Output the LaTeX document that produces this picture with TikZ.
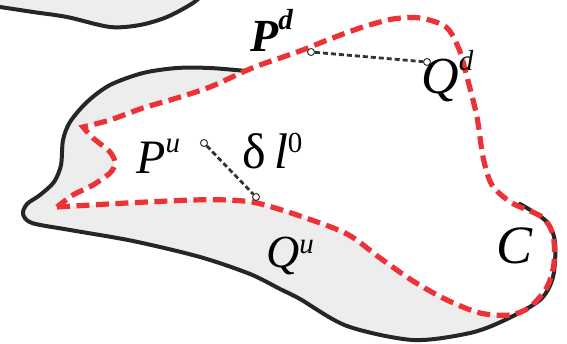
\documentclass[tikz,border=0pt]{standalone}
\usepackage{fontspec}
\setmainfont{Liberation Serif}
\usepackage{xcolor}
\usetikzlibrary{calc}
\definecolor{contourred}{RGB}{236,50,54}
\tikzset{
    outline/.style={
        draw=black!85,
        line width=4pt,
        line join=round,
        line cap=round
    }
}
\tikzset{
    contour/.style={
        draw=contourred,
        line width=5.2pt,
        dash pattern=on 13pt off 6.5pt
    }
}
\tikzset{
    probe/.style={
        circle,
        draw=black!80,
        fill=white,
        line width=1pt,
        inner sep=0pt,
        minimum size=7pt
    }
}
\tikzset{
    gap/.style={
        draw=black!80,
        line width=2.8pt,
        dash pattern=on 5pt off 3pt
    }
}
\tikzset{
    symbol/.style={
        anchor=base west,
        inner sep=0pt
    }
}
\newcommand{\upmark}[2]{\raisebox{#1}{\fontsize{29}{29}\selectfont #2}}

\begin{document}
\begin{tikzpicture}[
    x=1pt, y=-1pt
]

\useasboundingbox (0,0) rectangle (567,344);
\clip (0,0) rectangle (567,344);

% =========================================================
% Neighbouring region (top left)
% =========================================================

\fill[black!7] (-8,-8) -- (-8,7) -- plot[smooth] coordinates {
    (0,7) (33,12) (67,17) (110,27) (140,25) (167,17) (193,3) (205,-8)
} -- cycle;
\draw[outline] plot[smooth] coordinates {
    (-8,6) (0,7) (33,12) (67,17) (110,27) (140,25) (167,17) (193,3) (205,-8)
};

% =========================================================
% Region and contour C
% =========================================================

\def\regionpath{
    (246,71) (210,68) (177,68) (143,73) (110,85) (87,102) (70,122)
    (63,140) (61,165) (54,182) (40,195) (27,204) (23,214) (32,223)
    (70,230) (133,241) (200,257) (250,274) (280,289) (300,299)
    (347,326) (413,340) (470,333) (505,320) (540,300) (553,277)
    (555,242) (546,221) (520,204)
}
\def\contourpath{
    plot[smooth] coordinates {
        (57,207) (127,203) (193,200) (227,200) (257,203) (300,216)
        (347,234) (380,258) (413,281) (447,300) (480,313) (510,315)
        (530,307) (547,287) (554,263) (553,235) (542,217) (512,203)
        (492,185) (483,157) (477,117) (467,77) (459,49) (446,27)
        (420,18) (393,19) (363,27) (330,39) (300,51) (260,65) (243,72)
        (210,87) (177,98) (143,108) (110,120) (83,127)
    }
    -- plot[smooth] coordinates {
        (83,127) (93,138) (110,152) (115,163) (110,173) (93,185)
        (73,195) (57,207)
    }
    -- cycle
}

\fill[black!7] plot[smooth] coordinates {\regionpath} -- cycle;
\fill[white] \contourpath;
\draw[outline] plot[smooth] coordinates {\regionpath};
\draw[contour] \contourpath;

% =========================================================
% Point pairs
% =========================================================

\node[probe] (pd) at (311,52) {};
\node[probe] (qd) at (427,62) {};
\node[probe] (pu) at (204,143) {};
\node[probe] (qu) at (256,197) {};

\draw[gap] (pd) -- (qd);
\draw[gap] (pu) -- (qu);

% =========================================================
% Labels
% =========================================================

\node[symbol] (lpd) at (250,52) {%
    \fontsize{46}{46}\selectfont\bfseries\itshape P\upmark{22pt}{d}};
\node[symbol] (lqd) at (421,94) {%
    \fontsize{52}{52}\selectfont\itshape Q\upmark{23pt}{d}};
\node[symbol] (lpu) at (136,174) {%
    \fontsize{48}{48}\selectfont\itshape P\upmark{21pt}{u}};
\node[symbol] (ldl) at (242,169) {%
    \fontsize{50}{50}\selectfont δ\,\textit{l}\upmark{16pt}{0}};
\node[symbol] (lqu) at (266,268) {%
    \fontsize{46}{46}\selectfont\itshape Q\upmark{14pt}{u}};
\node[symbol] (lc) at (496,264) {%
    \fontsize{54}{54}\selectfont\itshape C};

\end{tikzpicture}
\end{document}
